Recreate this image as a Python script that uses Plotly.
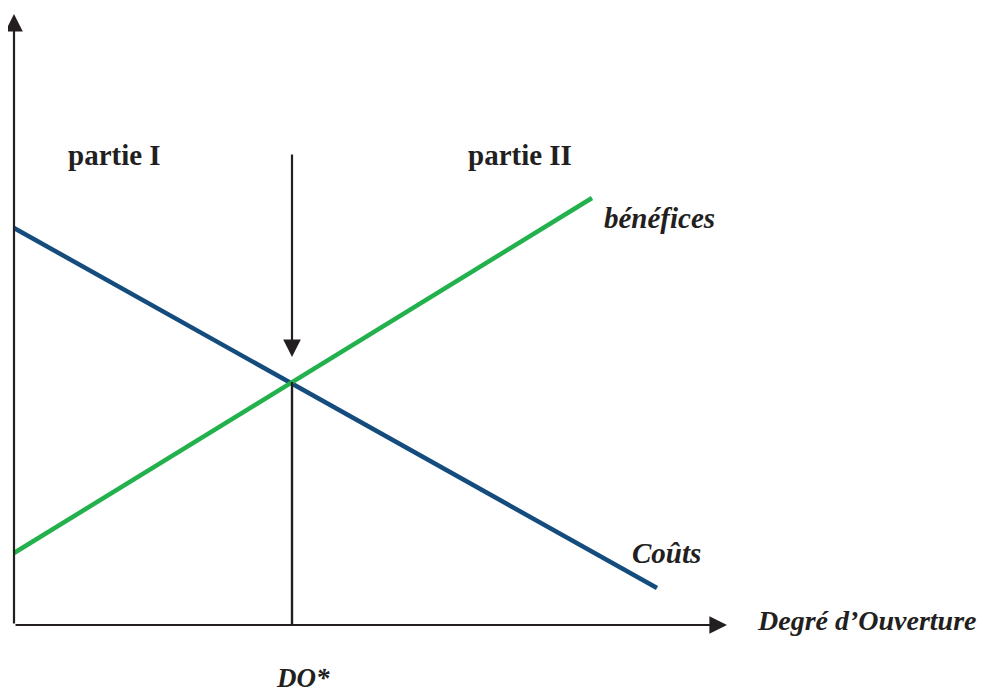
import plotly.graph_objects as go

# coordinates in chart units (origin at the axes corner)
couts_x = [0, 643]
couts_y = [397, 37]
benef_x = [0, 578]
benef_y = [72, 427]
do_star_x = 278
do_star_y = 243

labels = ["partie I", "partie II", "bénéfices", "Coûts", "Degré d’Ouverture"]
label_x = [100, 506, 645, 652, 853]
label_y = [470, 470, 407, 72, 5]
label_size = [29, 29, 29, 29, 28]
label_italic = [False, False, True, True, True]

fig = go.Figure()

fig.add_trace(go.Scatter(x=couts_x, y=couts_y, mode="lines",
                         line=dict(color="#154c7e", width=4.5), hoverinfo="skip"))
fig.add_trace(go.Scatter(x=benef_x, y=benef_y, mode="lines",
                         line=dict(color="#22b14c", width=4.5), hoverinfo="skip"))
# vertical line at DO*
fig.add_trace(go.Scatter(x=[do_star_x, do_star_x], y=[0, do_star_y], mode="lines",
                         line=dict(color="#231f20", width=2.4), hoverinfo="skip"))

# axes with arrow heads
arrow = dict(xref="x", yref="y", axref="x", ayref="y", showarrow=True,
             arrowhead=2, arrowsize=1.6, arrowwidth=2.2, arrowcolor="#231f20", text="")
fig.add_annotation(x=0, y=611, ax=0, ay=0, **arrow)
fig.add_annotation(x=713, y=0, ax=0, ay=0, **arrow)
fig.add_annotation(x=do_star_x, y=268, ax=do_star_x, ay=472, **arrow)

for t, x, y, s, it in zip(labels, label_x, label_y, label_size, label_italic):
    fig.add_annotation(x=x, y=y, text=f"<i><b>{t}</b></i>" if it else f"<b>{t}</b>",
                       showarrow=False, xref="x", yref="y",
                       font=dict(family="Liberation Serif", size=s, color="#231f20"))

fig.add_annotation(x=do_star_x + 11, y=0, yref="paper", yanchor="bottom",
                   text="<i><b>DO*</b></i>", showarrow=False, xref="x",
                   font=dict(family="Liberation Serif", size=27, color="#231f20"))

fig.update_layout(
    width=981, height=687,
    margin=dict(l=0, r=0, t=0, b=0),
    paper_bgcolor="white", plot_bgcolor="white",
    showlegend=False,
    xaxis=dict(range=[-6, 975], visible=False, fixedrange=True),
    yaxis=dict(range=[-70, 617], visible=False, fixedrange=True),
)

fig.write_html("out.html")
